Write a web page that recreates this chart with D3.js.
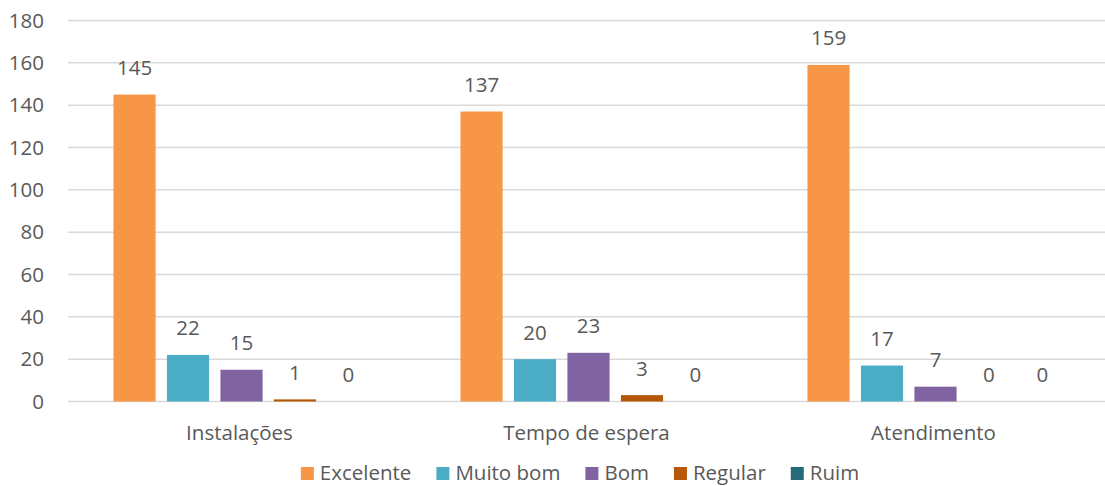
<!DOCTYPE html>
<html>
<head>
<meta charset="utf-8">
<script src="https://cdn.jsdelivr.net/npm/d3@7"></script>
<style>
  body { margin: 0; background: #fff; }
  text { font-family: "Open Sans", sans-serif; fill: #595959; font-size: 20.5px; }
</style>
</head>
<body>
<script>
// chart data
var categories = ["Instalações", "Tempo de espera", "Atendimento"];
var seriesNames = ["Excelente", "Muito bom", "Bom", "Regular", "Ruim"];
var excelente = [145, 137, 159];
var muitoBom = [22, 20, 17];
var bom = [15, 23, 7];
var regular = [1, 3, 0];
var ruim = [0, 0, 0];
var yTicks = [0, 20, 40, 60, 80, 100, 120, 140, 160, 180];

var seriesValues = [excelente, muitoBom, bom, regular, ruim];
var colors = ["#F79646", "#4BACC6", "#8064A2", "#B65708", "#266A7C"];

var width = 1105, height = 486;
var margin = { top: 20.5, right: 0, bottom: 84.5, left: 68 };

var svg = d3.select("body").append("svg")
    .attr("width", width)
    .attr("height", height);

var y = d3.scaleLinear()
    .domain([0, 180])
    .range([height - margin.bottom, margin.top]);

// category bands (plot runs a little past the right edge, as in the original)
var x0 = d3.scaleBand()
    .domain(categories)
    .range([margin.left, 1109]);

var x1 = d3.scaleBand()
    .domain(seriesNames)
    .range([0, x0.bandwidth()])
    .paddingInner(0.212)
    .paddingOuter(0.85);

// gridlines
svg.append("g")
    .selectAll("line")
    .data(yTicks)
    .enter()
    .append("line")
    .attr("x1", margin.left)
    .attr("x2", width)
    .attr("y1", d => y(d))
    .attr("y2", d => y(d))
    .attr("stroke", "#d9d9d9")
    .attr("stroke-width", 1.5);

// y tick labels
svg.append("g")
    .selectAll("text")
    .data(yTicks)
    .enter()
    .append("text")
    .attr("x", 44)
    .attr("y", d => y(d))
    .attr("dy", "0.35em")
    .attr("text-anchor", "end")
    .text(d => d);

// bars
var rows = [];
categories.forEach(function(c, i){
    seriesNames.forEach(function(s, j){
        rows.push({ cat: c, series: s, value: seriesValues[j][i], color: colors[j] });
    });
});

svg.append("g")
    .selectAll("rect")
    .data(rows)
    .enter()
    .append("rect")
    .attr("x", d => x0(d.cat) + x1(d.series))
    .attr("y", d => y(d.value))
    .attr("width", x1.bandwidth())
    .attr("height", d => y(0) - y(d.value))
    .attr("fill", d => d.color);

// value labels
svg.append("g")
    .selectAll("text")
    .data(rows)
    .enter()
    .append("text")
    .attr("x", d => x0(d.cat) + x1(d.series) + x1.bandwidth() / 2)
    .attr("y", d => y(d.value) - 19.5)
    .attr("text-anchor", "middle")
    .text(d => d.value);

// category labels
svg.append("g")
    .selectAll("text")
    .data(categories)
    .enter()
    .append("text")
    .attr("x", d => x0(d) + x0.bandwidth() / 2 - 2)
    .attr("y", 440)
    .attr("text-anchor", "middle")
    .text(d => d);

// legend
var legend = svg.append("g");
var lx = 0;
seriesNames.forEach(function(s, i){
    var item = legend.append("g").attr("transform", "translate(" + lx + ",0)");
    item.append("rect")
        .attr("x", 0)
        .attr("y", -13)
        .attr("width", 13)
        .attr("height", 13)
        .attr("fill", colors[i]);
    var t = item.append("text")
        .attr("x", 19)
        .attr("y", 0)
        .text(s);
    lx += 19 + t.node().getComputedTextLength() + 25;
});
var legendWidth = lx - 25;
legend.attr("transform", "translate(" + (580 - legendWidth / 2) + ",480)");
</script>
</body>
</html>
